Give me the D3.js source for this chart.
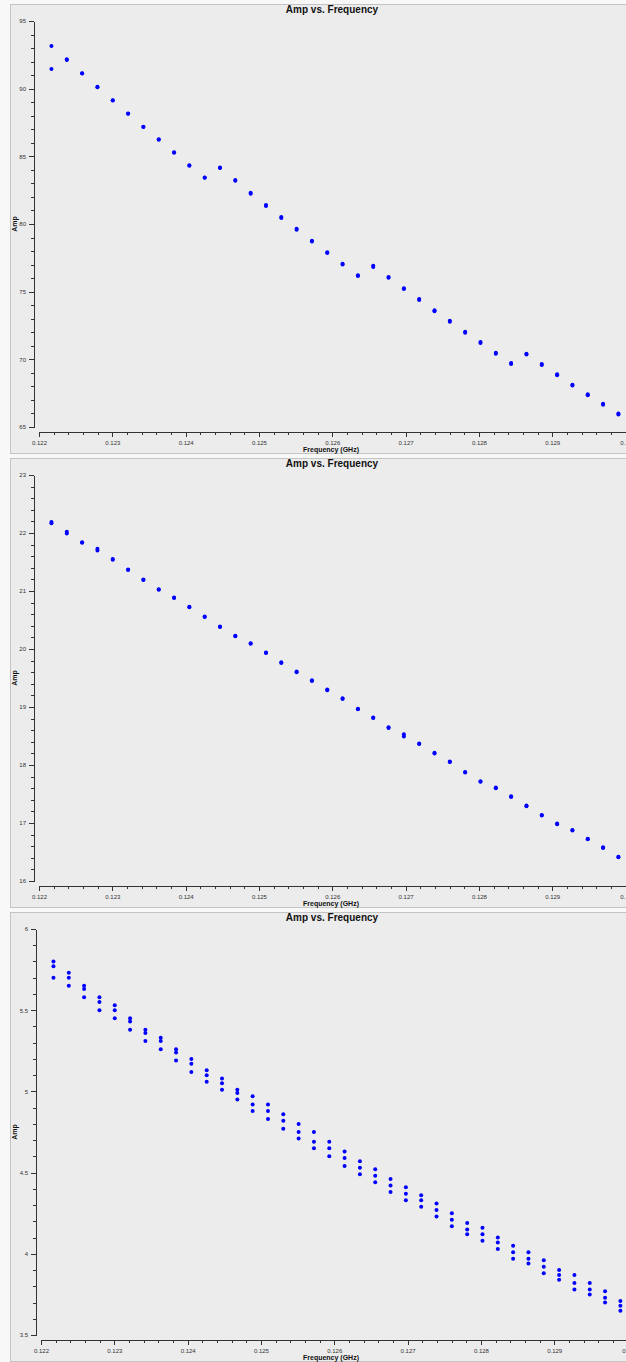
<!DOCTYPE html>
<html>
<head>
<meta charset="utf-8">
<script src="https://cdnjs.cloudflare.com/ajax/libs/d3/7.8.5/d3.min.js"></script>
<style>
    body { margin: 0; background: #f8f8f8; overflow: hidden; font-family: "Liberation Sans", Arial, sans-serif; }
    .frame { fill: #ececec; stroke: #c4c4c4; }
    .axis path, .axis line { stroke: #333; fill: none; shape-rendering: crispEdges; }
    .axis text { font-size: 6px; fill: #333; font-family: "Liberation Sans", Arial, sans-serif; }
    .title { font-size: 10px; font-weight: bold; fill: #111; }
    .axis-label { font-size: 7px; font-weight: bold; fill: #111; }
</style>
</head>
<body>
<div id="chart"></div>
<script>

// frequency channels (GHz)
var freqs = [0.12217, 0.122379, 0.122588, 0.122797, 0.123006, 0.123215, 0.123424, 0.123633,
    0.123842, 0.124051, 0.12426, 0.124469, 0.124678, 0.124887, 0.125096, 0.125305,
    0.125514, 0.125723, 0.125932, 0.126141, 0.12635, 0.126559, 0.126768, 0.126977,
    0.127186, 0.127395, 0.127604, 0.127813, 0.128022, 0.128231, 0.12844, 0.128649,
    0.128858, 0.129067, 0.129276, 0.129485, 0.129694, 0.129903];

var xTicks = [0.122, 0.123, 0.124, 0.125, 0.126, 0.127, 0.128, 0.129, 0.13];

// panel 1 - two correlations
var amp1a = [93.16, 92.18, 91.14, 90.14, 89.15, 88.17, 87.19, 86.26, 85.30, 84.34, 83.43, 84.17,
    83.25, 82.31, 81.40, 80.51, 79.65, 78.77, 77.91, 77.07, 76.21, 76.91, 76.09, 75.26,
    74.45, 73.63, 72.85, 72.04, 71.28, 70.49, 69.73, 70.42, 69.66, 68.89, 68.13, 67.42, 66.71, 66.00];
var amp1b = [91.46, 92.11, 91.12, 90.11, 89.13, 88.15, 87.17, 86.23, 85.27, 84.31, 83.41, 84.14,
    83.19, 82.24, 81.33, 80.44, 79.58, 78.70, 77.85, 77.00, 76.15, 76.83, 76.02, 75.19,
    74.38, 73.56, 72.78, 71.97, 71.21, 70.42, 69.66, 70.35, 69.59, 68.82, 68.06, 67.35, 66.64, 65.93];
var yTicks1 = [65, 70, 75, 80, 85, 90, 95];

// panel 2
var amp2a = [22.19, 22.02, 21.84, 21.73, 21.55, 21.37, 21.20, 21.03, 20.89, 20.73, 20.56, 20.39,
    20.23, 20.10, 19.94, 19.77, 19.61, 19.46, 19.30, 19.15, 18.97, 18.82, 18.65, 18.53,
    18.37, 18.21, 18.06, 17.88, 17.72, 17.61, 17.46, 17.30, 17.14, 16.99, 16.88, 16.73, 16.58, 16.42];
var amp2b = [22.17, 21.99, 21.83, 21.70, 21.54, 21.36, 21.19, 21.02, 20.88, 20.72, 20.55, 20.38,
    20.22, 20.09, 19.93, 19.76, 19.60, 19.45, 19.29, 19.14, 18.96, 18.81, 18.64, 18.49,
    18.36, 18.20, 18.05, 17.87, 17.71, 17.60, 17.45, 17.29, 17.13, 16.98, 16.87, 16.72, 16.57, 16.41];
var yTicks2 = [16, 17, 18, 19, 20, 21, 22, 23];

// panel 3 - three baselines
var amp3a = [5.80, 5.73, 5.65, 5.58, 5.53, 5.45, 5.38, 5.33, 5.26, 5.20, 5.13, 5.08, 5.01, 4.97,
    4.92, 4.86, 4.80, 4.75, 4.69, 4.63, 4.57, 4.52, 4.46, 4.41, 4.36, 4.31, 4.25, 4.19,
    4.16, 4.10, 4.05, 4.01, 3.96, 3.90, 3.87, 3.82, 3.77, 3.71];
var amp3b = [5.77, 5.70, 5.63, 5.55, 5.50, 5.43, 5.36, 5.31, 5.24, 5.17, 5.10, 5.05, 4.99, 4.92,
    4.88, 4.82, 4.75, 4.69, 4.65, 4.59, 4.53, 4.48, 4.42, 4.37, 4.33, 4.27, 4.21, 4.15,
    4.12, 4.07, 4.01, 3.97, 3.92, 3.87, 3.82, 3.78, 3.73, 3.68];
var amp3c = [5.70, 5.65, 5.58, 5.50, 5.45, 5.38, 5.31, 5.26, 5.19, 5.12, 5.06, 5.01, 4.95, 4.88,
    4.83, 4.77, 4.71, 4.65, 4.60, 4.54, 4.49, 4.44, 4.38, 4.33, 4.29, 4.23, 4.17, 4.12,
    4.08, 4.03, 3.97, 3.94, 3.88, 3.84, 3.78, 3.75, 3.70, 3.65];
var yTicks3 = [3.5, 4, 4.5, 5, 5.5, 6];


/*
 * AmpVis - one "Amp vs. Frequency" panel
 */
AmpVis = function(_svg, _top, _series, _yTicks, _yMinorStep, _axisX){
    this.svg = _svg;
    this.top = _top;
    this.series = _series;
    this.yTicks = _yTicks;
    this.yMinorStep = _yMinorStep;
    this.axisX = _axisX;

    this.initVis();
}

AmpVis.prototype.initVis = function(){
    var vis = this;

    vis.g = vis.svg.append("g")
        .attr("transform", "translate(0," + vis.top + ")");

    vis.g.append("rect")
        .attr("class", "frame")
        .attr("x", 10.5)
        .attr("y", 0.5)
        .attr("width", 660)
        .attr("height", 449);

    vis.g.append("text")
        .attr("class", "title")
        .attr("x", 332)
        .attr("y", 9)
        .style("text-anchor", "middle")
        .text("Amp vs. Frequency");

    // scales
    var x0 = vis.axisX + 5;
    vis.x = d3.scaleLinear()
        .domain([0.122, 0.13])
        .range([x0, x0 + 586.5]);

    var yMin = d3.min(vis.yTicks), yMax = d3.max(vis.yTicks);
    vis.y = d3.scaleLinear()
        .domain([yMin, yMax])
        .range([423, 17]);

    // minor ticks first, majors on top
    var yMinor = d3.range(yMin, yMax + vis.yMinorStep / 2, vis.yMinorStep);
    var xMinor = d3.range(0.122, 0.1301, 0.0002);

    vis.g.append("g")
        .attr("class", "axis")
        .attr("transform", "translate(" + vis.axisX + ",0)")
        .call(d3.axisLeft(vis.y).tickValues(yMinor).tickSize(3).tickSizeOuter(0).tickFormat(""));

    vis.g.append("g")
        .attr("class", "y-axis axis")
        .attr("transform", "translate(" + vis.axisX + ",0)")
        .call(d3.axisLeft(vis.y).tickValues(vis.yTicks).tickSize(5).tickSizeOuter(0).tickPadding(3)
            .tickFormat(function(d){ return String(d); }));

    vis.g.append("g")
        .attr("class", "axis")
        .attr("transform", "translate(0,428)")
        .call(d3.axisBottom(vis.x).tickValues(xMinor).tickSize(3).tickSizeOuter(0).tickFormat(""));

    vis.g.append("g")
        .attr("class", "x-axis axis")
        .attr("transform", "translate(0,428)")
        .call(d3.axisBottom(vis.x).tickValues(xTicks).tickSize(5).tickSizeOuter(0).tickPadding(3.5)
            .tickFormat(function(d){ return String(+d.toFixed(3)); }));

    vis.g.append("text")
        .attr("class", "axis-label")
        .attr("x", 331)
        .attr("y", 448)
        .style("text-anchor", "middle")
        .text("Frequency (GHz)");

    vis.g.append("text")
        .attr("class", "axis-label")
        .attr("transform", "rotate(-90)")
        .attr("x", -220)
        .attr("y", 16.5)
        .style("text-anchor", "middle")
        .text("Amp");

    vis.updateVis();
}

AmpVis.prototype.updateVis = function(){
    var vis = this;

    var points = [];
    vis.series.forEach(function(s){
        s.forEach(function(v, i){
            points.push({freq: freqs[i], amp: v});
        });
    });

    vis.g.selectAll("circle")
        .data(points)
        .join("circle")
        .attr("cx", function(d){ return vis.x(d.freq); })
        .attr("cy", function(d){ return vis.y(d.amp); })
        .attr("r", 2)
        .attr("fill", "#0000ff");
}


var svg = d3.select("#chart").append("svg")
    .attr("width", 626)
    .attr("height", 1362)
    .style("display", "block");

var panel1 = new AmpVis(svg, 4, [amp1a, amp1b], yTicks1, 1, 34);
var panel2 = new AmpVis(svg, 458, [amp2a, amp2b], yTicks2, 0.2, 34);
var panel3 = new AmpVis(svg, 912, [amp3a, amp3b, amp3c], yTicks3, 0.1, 36);

</script>
</body>
</html>
